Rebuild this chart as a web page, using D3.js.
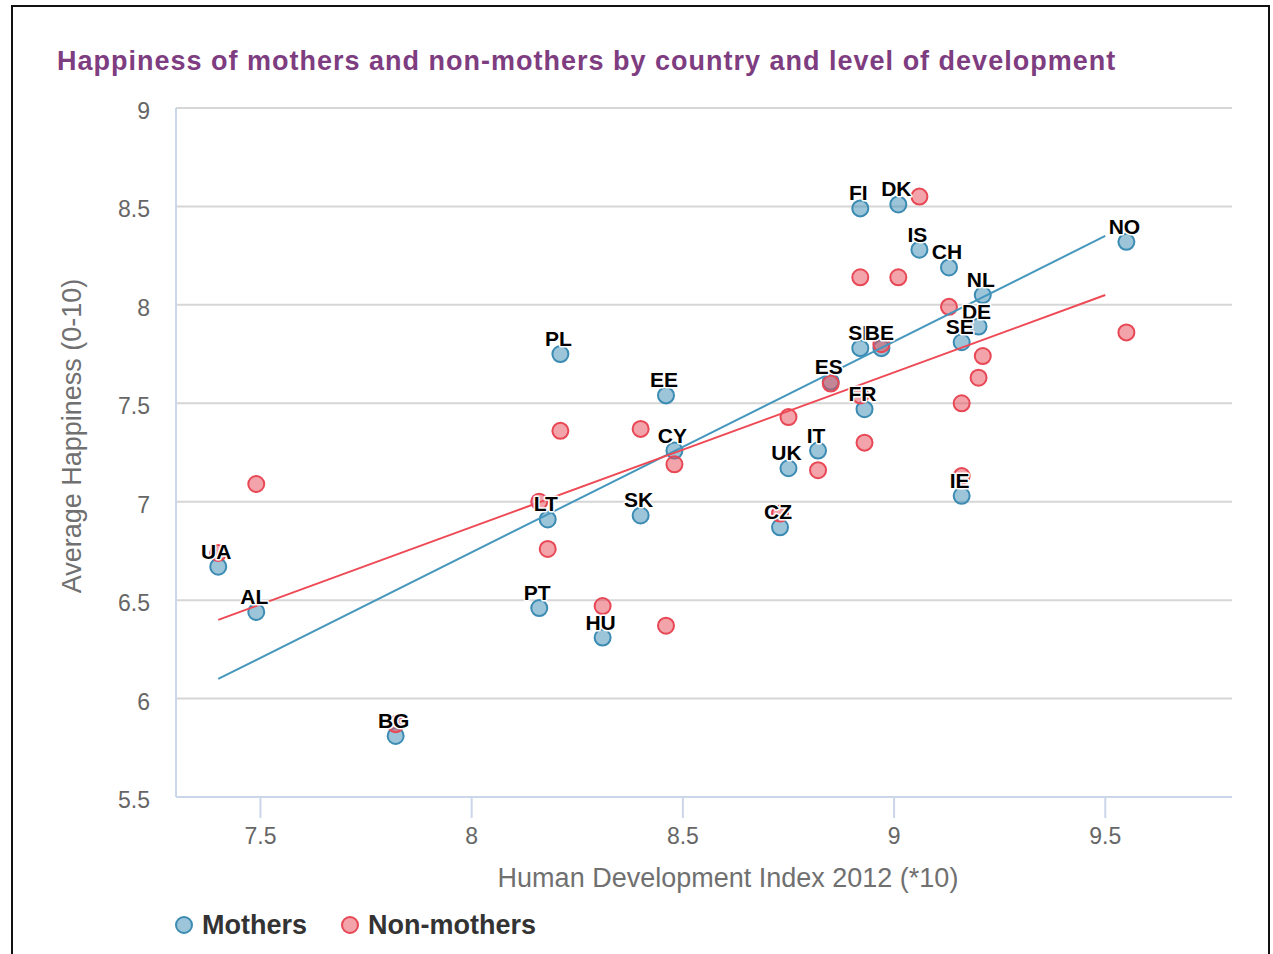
<!DOCTYPE html>
<html>
<head>
<meta charset="utf-8">
<script src="https://cdn.jsdelivr.net/npm/d3@7"></script>
<style>
	body { margin: 0; background: #fff; }
	svg { display: block; font-family: "Liberation Sans", Arial, sans-serif; }
	.grid line { stroke: #d6d6d6; stroke-width: 2; }
	.tick-label { fill: #666; font-size: 23px; }
	.axis-title { fill: #707070; font-size: 27px; }
	.dlabel { font-size: 21px; font-weight: bold; fill: #000; stroke: #fff; stroke-width: 3; paint-order: stroke; stroke-linejoin: round; }
</style>
</head>
<body>
<svg id="chart" width="1273" height="954"></svg>
<script>
// country codes, HDI 2012 (*10) and happiness
var countries = ["UA","AL","BG","PT","HU","LT","SK","PL","EE","CY","CZ","UK","IT","ES","FR","SI","BE","FI","DK","IS","CH","NL","DE","SE","IE","NO"];
var hdi =        [7.40,7.49,7.82,8.16,8.31,8.18,8.40,8.21,8.46,8.48,8.73,8.75,8.82,8.85,8.93,8.92,8.97,8.92,9.01,9.06,9.13,9.21,9.20,9.16,9.16,9.55];
var mothers =    [6.67,6.44,5.81,6.46,6.31,6.91,6.93,7.75,7.54,7.26,6.87,7.17,7.26,7.61,7.47,7.78,7.78,8.49,8.51,8.28,8.19,8.05,7.89,7.81,7.03,8.32];
var nonMothers = [6.74,7.09,5.87,7.00,6.47,6.76,7.37,7.36,6.37,7.19,6.94,7.43,7.16,7.60,7.30,7.54,7.80,8.14,8.14,8.55,7.99,7.74,7.63,7.50,7.13,7.86];

// trend lines (end points)
var trendX = [7.40, 9.50];
var mothersTrend = [6.10, 8.35];
var nonMothersTrend = [6.40, 8.05];

var xTicks = [7.5, 8, 8.5, 9, 9.5];
var yTicks = [5.5, 6, 6.5, 7, 7.5, 8, 8.5, 9];

var seriesNames = ["Mothers", "Non-mothers"];
var strokeCol = ["#3b8bb3", "#e84855"];
var lineCol = ["#4597bd", "#ee4a55"];

var svg = d3.select("#chart");
var plot = {left: 176, right: 1232, top: 108, bottom: 797};

var x = d3.scaleLinear().domain([7.3, 9.8]).range([plot.left, plot.right]);
var y = d3.scaleLinear().domain([5.5, 9]).range([plot.bottom, plot.top]);

// frame
svg.append("rect")
	.attr("x", 12).attr("y", 6)
	.attr("width", 1257).attr("height", 980)
	.attr("fill", "#fff")
	.attr("stroke", "#111").attr("stroke-width", 2);

// title
svg.append("text")
	.attr("x", 57).attr("y", 70)
	.attr("fill", "#7e3d80")
	.style("font-size", "27px").style("font-weight", "bold")
	.style("letter-spacing", "1px")
	.text("Happiness of mothers and non-mothers by country and level of development");

// gridlines
svg.append("g").attr("class", "grid")
	.selectAll("line").data(yTicks.slice(1)).enter().append("line")
	.attr("x1", plot.left).attr("x2", plot.right)
	.attr("y1", function(d){ return y(d); }).attr("y2", function(d){ return y(d); });

// axes
svg.append("line")
	.attr("x1", plot.left).attr("x2", plot.right)
	.attr("y1", plot.bottom).attr("y2", plot.bottom)
	.attr("stroke", "#ccd6eb").attr("stroke-width", 2);
svg.append("line")
	.attr("x1", plot.left).attr("x2", plot.left)
	.attr("y1", plot.top).attr("y2", plot.bottom)
	.attr("stroke", "#ccd6eb").attr("stroke-width", 2);

var xg = svg.append("g");
xg.selectAll("line").data(xTicks).enter().append("line")
	.attr("x1", function(d){ return x(d); }).attr("x2", function(d){ return x(d); })
	.attr("y1", plot.bottom).attr("y2", plot.bottom + 21)
	.attr("stroke", "#ccd6eb").attr("stroke-width", 2);
xg.selectAll("text").data(xTicks).enter().append("text")
	.attr("class", "tick-label")
	.attr("x", function(d){ return x(d); }).attr("y", 844)
	.attr("text-anchor", "middle")
	.text(function(d){ return d; });

svg.append("g").selectAll("text").data(yTicks).enter().append("text")
	.attr("class", "tick-label")
	.attr("x", 150).attr("y", function(d){ return y(d) + 11; })
	.attr("text-anchor", "end")
	.text(function(d){ return d; });

svg.append("text").attr("class", "axis-title")
	.attr("x", 728).attr("y", 887)
	.attr("text-anchor", "middle")
	.text("Human Development Index 2012 (*10)");
svg.append("text").attr("class", "axis-title")
	.attr("transform", "translate(81,436) rotate(-90)")
	.attr("text-anchor", "middle")
	.text("Average Happiness (0-10)");

// markers
var idx = d3.range(countries.length);
[mothers, nonMothers].forEach(function(vals, s){
	svg.append("g").selectAll("circle").data(idx).enter().append("circle")
		.attr("cx", function(i){ return x(hdi[i]); })
		.attr("cy", function(i){ return y(vals[i]); })
		.attr("r", 8)
		.attr("fill", strokeCol[s]).attr("fill-opacity", 0.5)
		.attr("stroke", strokeCol[s]).attr("stroke-width", 2);
});

// trend lines
var line = d3.line()
	.x(function(d){ return x(d[0]); })
	.y(function(d){ return y(d[1]); });
[mothersTrend, nonMothersTrend].forEach(function(vals, s){
	svg.append("path")
		.attr("d", line(d3.zip(trendX, vals)))
		.attr("fill", "none")
		.attr("stroke", lineCol[s]).attr("stroke-width", 2);
});

// country labels (mothers only)
svg.append("g").selectAll("text").data(idx).enter().append("text")
	.attr("class", "dlabel")
	.attr("x", function(i){ return x(hdi[i]) - 2; })
	.attr("y", function(i){ return y(mothers[i]) - 8; })
	.attr("text-anchor", "middle")
	.text(function(i){ return countries[i]; });

// legend
var leg = svg.append("g");
var legX = [184, 350];
seriesNames.forEach(function(name, s){
	leg.append("circle")
		.attr("cx", legX[s]).attr("cy", 925).attr("r", 8)
		.attr("fill", strokeCol[s]).attr("fill-opacity", 0.5)
		.attr("stroke", strokeCol[s]).attr("stroke-width", 2);
	leg.append("text")
		.attr("x", legX[s] + 18).attr("y", 934)
		.attr("fill", "#333")
		.style("font-size", "27px").style("font-weight", "bold")
		.text(name);
});
</script>
</body>
</html>
